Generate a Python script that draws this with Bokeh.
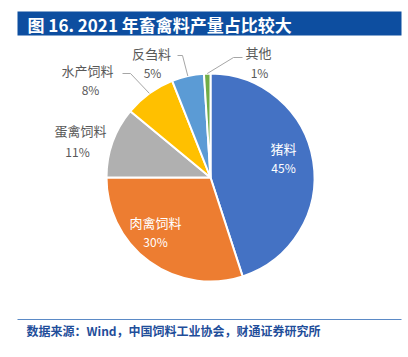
import math
from bokeh.plotting import figure
from bokeh.models import Range1d, ColumnDataSource
from bokeh.core.properties import value
from bokeh.embed import file_html
from bokeh.resources import INLINE

# ---- data ----
categories = ["猪料", "肉禽饲料", "蛋禽饲料", "水产饲料", "反刍料", "其他"]
shares = [45, 30, 11, 8, 5, 1]
slice_colors = ["#4472C4", "#ED7D31", "#B0B0B0", "#FFC000", "#5B9BD5", "#70AD47"]
title_text = "图 16.  2021 年畜禽料产量占比较大"
source_text = "数据来源：Wind，中国饲料工业协会，财通证券研究所"

W, H = 408, 357
FONT = "Noto Sans CJK SC"

def Y(ys):  # screen y -> data y
    return H - ys

p = figure(width=W, height=H, x_range=Range1d(0, W), y_range=Range1d(0, H),
           output_backend="svg", toolbar_location=None, min_border=0)
p.axis.visible = False
p.grid.visible = False
p.outline_line_color = None
p.background_fill_color = "white"
p.border_fill_color = "white"

# ---- title bar ----
p.quad(left=[17], right=[401], bottom=[Y(35)], top=[Y(11)], fill_color="#0D4EA0", line_color=None)
p.text(x=[27], y=[Y(23.5)], text=[title_text], text_color="white", text_font=value(FONT),
       text_font_size="17px", text_font_style="bold", text_align="left", text_baseline="middle")

# ---- pie ----
cx, cy, r = 210, Y(177), 104
total = float(sum(shares))
starts, ends, mids = [], [], []
cum = 0.0
for s in shares:
    a0 = math.pi / 2 - 2 * math.pi * cum / total
    cum += s
    a1 = math.pi / 2 - 2 * math.pi * cum / total
    starts.append(a0)
    ends.append(a1)
    mids.append((a0 + a1) / 2)
src = ColumnDataSource(dict(start=starts, end=ends, color=slice_colors, cat=categories))
p.wedge(x=cx, y=cy, radius=r, start_angle="start", end_angle="end", direction="clock",
        fill_color="color", line_color="white", line_width=2, source=src)

pct = [f"{s}%" for s in shares]

# inside labels (猪料, 肉禽饲料)
inside_pos = {0: (283, 148, 167), 1: (155, 222, 241)}
for i, (lx, ly1, ly2) in inside_pos.items():
    p.text(x=[lx], y=[Y(ly1)], text=[categories[i]], text_color="white", text_font=value(FONT),
           text_font_size="13px", text_align="center", text_baseline="middle")
    p.text(x=[lx], y=[Y(ly2)], text=[pct[i]], text_color="white", text_font=value(FONT),
           text_font_size="12px", text_align="center", text_baseline="middle")

# outside labels
outside_pos = {2: (80, 130, 77, 151), 3: (87, 70, 90, 89), 4: (151, 53, 152, 72), 5: (258, 52, 259, 72)}
for i, (nx, ny, px_, py) in outside_pos.items():
    p.text(x=[nx], y=[Y(ny)], text=[categories[i]], text_color="#595959", text_font=value(FONT),
           text_font_size="13px", text_align="center", text_baseline="middle")
    p.text(x=[px_], y=[Y(py)], text=[pct[i]], text_color="#595959", text_font=value(FONT),
           text_font_size="12px", text_align="center", text_baseline="middle")

# leader lines: from slice edge to elbow points
elbows = {3: [(130, 73), (122, 73)], 4: [(182, 55), (177, 55)], 5: [(233, 57), (242, 57)]}
for i, pts in elbows.items():
    ex = cx + r * math.cos(mids[i])
    ey = cy + r * math.sin(mids[i])
    xs = [ex] + [q[0] for q in pts]
    ys = [ey] + [Y(q[1]) for q in pts]
    p.line(x=xs, y=ys, line_color="#A6A6A6", line_width=1)

# ---- footer ----
p.line(x=[17, 401], y=[Y(319), Y(319)], line_color="#5B8AC6", line_width=1)
p.text(x=[26], y=[Y(330)], text=[source_text], text_color="#1F4E9A", text_font=value(FONT),
       text_font_size="12px", text_font_style="bold", text_align="left", text_baseline="middle")

open("out.html", "w").write(file_html(p, INLINE))
